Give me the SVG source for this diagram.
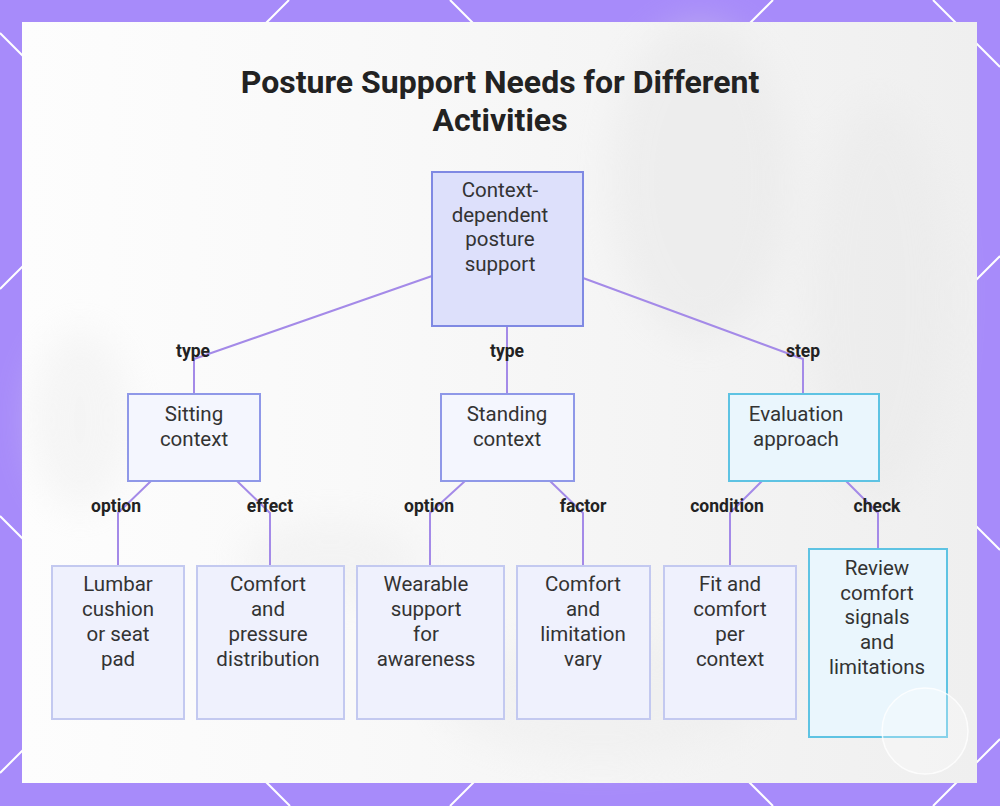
<svg xmlns="http://www.w3.org/2000/svg" width="1000" height="806" viewBox="0 0 1000 806">
<defs>
<style>
.lat{stroke:#ffffff;stroke-width:2;fill:none}
.con{stroke:#a48ae8;stroke-width:2;fill:none;stroke-linejoin:round}
.lbl{font-family:Roboto,"Liberation Sans",sans-serif;font-weight:700;font-size:17.5px;fill:#222222;text-anchor:middle}
.txt{font-family:Roboto,"Liberation Sans",sans-serif;font-size:20.5px;fill:#333333;text-anchor:middle}
.title{font-family:Roboto,"Liberation Sans",sans-serif;font-weight:700;font-size:32px;fill:#222222;text-anchor:middle}
.root{fill:#dde0fb;stroke:#7f89e3;stroke-width:2}
.mid{fill:#f4f6fe;stroke:#8f98e8;stroke-width:2}
.leaf{fill:#eff1fd;stroke:#c3c9f0;stroke-width:2}
.eval{fill:#eaf6fd;stroke:#5ec3e3;stroke-width:2}
</style>
<linearGradient id="pg" x1="0" y1="0" x2="1" y2="0">
<stop offset="0" stop-color="#fdfdfd"/>
<stop offset="0.35" stop-color="#f9f9f9"/>
<stop offset="1" stop-color="#efefef"/>
</linearGradient>
<filter id="blur" x="-50%" y="-50%" width="200%" height="200%"><feGaussianBlur stdDeviation="18"/></filter>
</defs>
<rect x="0" y="0" width="1000" height="806" fill="#a78bfa"/>
<g id="lattice">
<line class="lat" x1="289" y1="0" x2="0" y2="289"/>
<line class="lat" x1="773" y1="0" x2="0" y2="773"/>
<line class="lat" x1="1000" y1="256" x2="450" y2="806"/>
<line class="lat" x1="1000" y1="739" x2="933" y2="806"/>
<line class="lat" x1="0" y1="33" x2="773" y2="806"/>
<line class="lat" x1="0" y1="516" x2="290" y2="806"/>
<line class="lat" x1="450" y1="0" x2="1000" y2="550"/>
<line class="lat" x1="933" y1="0" x2="1000" y2="67"/>
</g>
<g id="panel">
<rect x="22" y="22" width="955" height="761" fill="url(#pg)"/>
<g filter="url(#blur)" opacity="0.35">
<ellipse cx="700" cy="180" rx="90" ry="160" fill="#e2e2e2"/>
<ellipse cx="880" cy="300" rx="70" ry="200" fill="#e6e6e6"/>
<ellipse cx="80" cy="420" rx="50" ry="90" fill="#e8e8e8"/>
<ellipse cx="330" cy="560" rx="90" ry="40" fill="#e8e8e8"/>
<ellipse cx="600" cy="700" rx="160" ry="60" fill="#e9e9e9"/>
</g>
</g>
<text class="title" x="500" y="93">Posture Support Needs for Different</text>
<text class="title" x="500" y="131">Activities</text>
<g id="connectors">
<path class="con" d="M432,276 L194,359 L194,394"/>
<path class="con" d="M507,326 L507,394"/>
<path class="con" d="M583,278 L803,359 L803,394"/>
<path class="con" d="M151,481 L118,513 L118,566"/>
<path class="con" d="M237,481 L270,513 L270,566"/>
<path class="con" d="M465,481 L430,513 L430,566"/>
<path class="con" d="M550,481 L583,513 L583,566"/>
<path class="con" d="M762,481 L730,513 L730,566"/>
<path class="con" d="M846,481 L878,513 L878,549"/>
<text class="lbl" x="193" y="357">type</text>
<text class="lbl" x="507" y="357">type</text>
<text class="lbl" x="803" y="357">step</text>
<text class="lbl" x="116" y="512">option</text>
<text class="lbl" x="270" y="512">effect</text>
<text class="lbl" x="429" y="512">option</text>
<text class="lbl" x="583" y="512">factor</text>
<text class="lbl" x="727" y="512">condition</text>
<text class="lbl" x="877" y="512">check</text>
</g>
<g id="root">
<rect class="root" x="432" y="172" width="151" height="154"/>
<text class="txt" x="500" y="197">Context-</text>
<text class="txt" x="500" y="222">dependent</text>
<text class="txt" x="500" y="246">posture</text>
<text class="txt" x="500" y="271">support</text>
</g>
<g id="sitting">
<rect class="mid" x="128" y="394" width="132" height="87"/>
<text class="txt" x="194" y="421">Sitting</text>
<text class="txt" x="194" y="446">context</text>
</g>
<g id="standing">
<rect class="mid" x="441" y="394" width="133" height="87"/>
<text class="txt" x="507" y="421">Standing</text>
<text class="txt" x="507" y="446">context</text>
</g>
<g id="evaluation">
<rect class="eval" x="729" y="394" width="150" height="87"/>
<text class="txt" x="796" y="421">Evaluation</text>
<text class="txt" x="796" y="446">approach</text>
</g>
<g id="lumbar">
<rect class="leaf" x="52" y="566" width="132" height="153"/>
<text class="txt" x="118" y="591">Lumbar</text>
<text class="txt" x="118" y="616">cushion</text>
<text class="txt" x="118" y="641">or seat</text>
<text class="txt" x="118" y="666">pad</text>
</g>
<g id="comfort-pressure">
<rect class="leaf" x="197" y="566" width="147" height="153"/>
<text class="txt" x="268" y="591">Comfort</text>
<text class="txt" x="268" y="616">and</text>
<text class="txt" x="268" y="641">pressure</text>
<text class="txt" x="268" y="666">distribution</text>
</g>
<g id="wearable">
<rect class="leaf" x="357" y="566" width="147" height="153"/>
<text class="txt" x="426" y="591">Wearable</text>
<text class="txt" x="426" y="616">support</text>
<text class="txt" x="426" y="641">for</text>
<text class="txt" x="426" y="666">awareness</text>
</g>
<g id="comfort-limitation">
<rect class="leaf" x="517" y="566" width="133" height="153"/>
<text class="txt" x="583" y="591">Comfort</text>
<text class="txt" x="583" y="616">and</text>
<text class="txt" x="583" y="641">limitation</text>
<text class="txt" x="583" y="666">vary</text>
</g>
<g id="fit">
<rect class="leaf" x="664" y="566" width="132" height="153"/>
<text class="txt" x="730" y="591">Fit and</text>
<text class="txt" x="730" y="616">comfort</text>
<text class="txt" x="730" y="641">per</text>
<text class="txt" x="730" y="666">context</text>
</g>
<g id="review">
<rect class="eval" x="809" y="549" width="138" height="188"/>
<text class="txt" x="877" y="575">Review</text>
<text class="txt" x="877" y="600">comfort</text>
<text class="txt" x="877" y="624">signals</text>
<text class="txt" x="877" y="649">and</text>
<text class="txt" x="877" y="674">limitations</text>
</g>
<circle cx="925" cy="731" r="43" fill="#ffffff" fill-opacity="0.25" stroke="#ffffff" stroke-opacity="0.8" stroke-width="1.5"/>
</svg>
